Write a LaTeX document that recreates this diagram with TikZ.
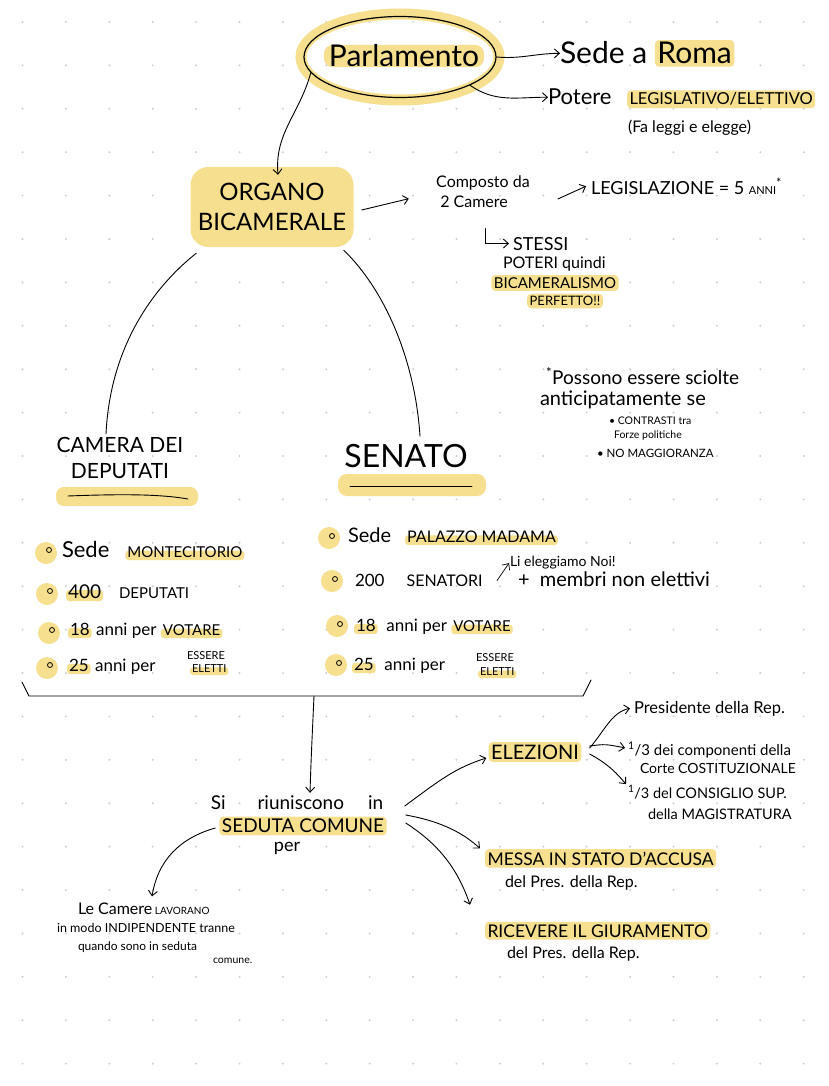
\documentclass[tikz,border=0pt]{standalone}
\usepackage{fontspec}
\setmainfont{Lato}
\usetikzlibrary{arrows.meta,shapes.geometric,calc}
\definecolor{hl}{RGB}{246,223,142}
\definecolor{dotc}{RGB}{205,205,205}
\newcommand\fz[1]{\fontsize{#1}{\fpeval{1.25*#1}}\selectfont}
\newcommand\hlt[1]{\tikz[baseline=(hh.base)]\node[anchor=center,fill=hl,rounded corners=4pt,inner xsep=2.5pt,inner ysep=2.5pt,outer sep=0pt](hh){#1};}
\newcommand\hlu[1]{\tikz[baseline=(hu.base)]{\node[anchor=center,inner sep=0pt,outer sep=0pt](hu) at (0,0) {\phantom{#1}};\fill[hl,rounded corners=3pt]($(hu.base west)+(-2pt,-3pt)$) rectangle ($(hu.base east)+(2pt,0.42em)$);\node[anchor=center,inner sep=0pt,outer sep=0pt](hv) at (hu.center) {#1};}}
\tikzset{
  txt/.style={anchor=base west, inner sep=0pt, outer sep=0pt},
  arr/.style={-{Straight Barb[length=5pt,width=9pt]}, line width=0.9pt, line cap=round},
  ln/.style={line width=0.9pt, line cap=round, line join=round},
  bdot/.style={fill=hl},
  bring/.style={draw, line width=0.8pt},
}
\begin{document}
\begin{tikzpicture}[x=1pt,y=-1pt]
\useasboundingbox (0,0) rectangle (828,1086);
\fill[white] (0,0) rectangle (828,1086);
\foreach \i in {0,...,18} \foreach \j in {0,...,24} \fill[dotc] (22.5+43.4*\i, 22+43.4*\j) circle (1.1);

% Parlamento
\node[ellipse, draw=hl, line width=11pt, minimum width=198, minimum height=86] (ring) at (400,57) {};
\node[ellipse, draw, line width=1.2pt, minimum width=192, minimum height=81] (parlE) at (400,57) {};
\node[fill=hl, rounded corners=9pt, inner xsep=5pt, inner ysep=0pt, font=\fz{30}] (parl) at (404,56) {Parlamento};

\node[txt, font=\fz{30}] (sede) at (560,64) {Sede a \hlt{Roma}};
\node[txt, font=\fz{22}] (potere) at (548,105) {Potere};
\node[txt, font=\fz{16.5}] (legis) at (627,105) {\hlt{LEGISLATIVO/ELETTIVO}};
\node[txt, font=\fz{16}] (fa) at (628,133) {(Fa leggi e elegge)};
\draw[arr] (parlE.east) to[out=-5,in=180] (sede.west);
\draw[arr] (parlE.-22) to[out=-35,in=180] (potere.west);

% Organo
\node[fill=hl, rounded corners=18pt, minimum width=163, minimum height=80, align=center, font=\fz{24}, inner sep=2pt] (organo) at (272,207) {ORGANO\\BICAMERALE};
\draw[arr] (parlE.190) to[out=-105,in=95] ($(organo.north)+(6,8)$);

\node[anchor=north west, align=left, font=\fz{16}, inner sep=0pt] (comp) at (436,176) {Composto da\\\ 2 Camere};
\draw[arr, shorten >=28pt] ($(organo.east)+(8,3)$) -- (comp.west);
\node[txt, font=\fz{18}] (legisl) at (591,194) {LEGISLAZIONE = 5 {\fz{11}ANNI}\textsuperscript{*}};
\draw[arr] ($(comp.north east)+(28,23)$) -- ($(legisl.west)+(-5,0)$);
\node[txt, font=\fz{18}] (stessi) at (513,250) {STESSI};
\draw[arr] ($(stessi.west)+(-28,-15)$) |- ($(stessi.west)+(-4,0)$);
\node[txt, font=\fz{16}] (poteri) at (503,268) {POTERI quindi};
\node[font=\fz{15}, inner sep=0pt] (bicam) at (555,283) {\hlt{BICAMERALISMO}};
\node[font=\fz{13}, inner sep=0pt] (perf) at (565,301) {\hlt{PERFETTO!!}};

% Camera / Senato
\node[align=center, font=\fz{21}, inner sep=0pt] (camera) at (120,458) {CAMERA DEI\\DEPUTATI};
\fill[hl, rounded corners=8pt] (56,487) rectangle (198,506);
\draw[ln] (68,496) .. controls (120,494) and (160,494) .. (188,499);
\node[font=\fz{32}, inner sep=0pt] (senato) at (406,456) {SENATO};
\fill[hl, rounded corners=9pt] (338,474) rectangle (486,496);
\draw[ln] (350,486) -- (472,486);
\draw[ln] ($(organo.south west)+(6,6)$) .. controls (150,290) and (110,350) .. ($(camera.north)+(-14,-3)$);
\draw[ln] ($(organo.south east)+(-10,3)$) .. controls (385,290) and (415,360) .. ($(senato.north)+(14,-8)$);

% Sciolte
\node[txt, font=\fz{19}] (sc1) at (546,384) {\textsuperscript{*}Possono essere sciolte};
\node[txt, font=\fz{20}] (sc2) at (540,405) {anticipatamente se};
\node[txt, font=\fz{10.5}] (sc3) at (609,424) {\textbullet\ CONTRASTI tra};
\node[txt, font=\fz{10.5}] (sc4) at (614,438) {Forze politiche};
\node[txt, font=\fz{11.5}] (sc5) at (597,457) {\textbullet\ NO MAGGIORANZA};

% left list
\foreach \x/\y in {46/553,47/594,49/633,47/668} {\fill[bdot] (\x,\y) circle (11); \draw[bring] (\x+3,\y-3) circle (2.5);}
\node[txt, font=\fz{22}] (l1) at (62,557) {Sede\hspace{16pt}{\fz{15}\hlu{MONTECITORIO}}};
\node[txt, font=\fz{19}] (l2) at (66,598) {\hlu{400}\hspace{16pt}{\fz{15}DEPUTATI}};
\node[txt, font=\fz{17}] (l3) at (68,635) {\hlu{18} anni per {\fz{15}\hlu{VOTARE}}};
\node[txt, font=\fz{17}] (l4) at (67,671) {\hlu{25} anni per};
\node[txt, font=\fz{11}] (l4a) at (187,659) {ESSERE};
\node[txt, font=\fz{11}] (l4b) at (190,672) {\hlu{ELETTI}};

% right list
\foreach \x/\y in {329/538,332/581,337/626,336/665} {\fill[bdot] (\x,\y) circle (11); \draw[bring] (\x+3,\y-2) circle (2.5);}
\node[txt, font=\fz{20}] (r1) at (348,542) {Sede\hspace{14pt}{\fz{16}\hlu{PALAZZO MADAMA}}};
\node[txt, font=\fz{17}] (r2) at (355,586) {200\hspace{22pt}{\fz{16}SENATORI}};
\node[txt, font=\fz{20}] (r2b) at (518,586) {+\ \ membri non elettivi};
\node[txt, font=\fz{14}] (noi) at (510,566) {Li eleggiamo Noi!};
\draw[arr, line width=0.7pt] ($(noi.south west)+(-13,12)$) -- ($(noi.west)+(-1,1)$);
\node[txt, font=\fz{17}] (r3) at (354,631) {\hlu{18}\ \ anni per {\fz{15}\hlu{VOTARE}}};
\node[txt, font=\fz{17}] (r4) at (352,670) {\hlu{25}\ \ anni per};
\node[txt, font=\fz{11}] (r4a) at (476,661) {ESSERE};
\node[txt, font=\fz{11}] (r4b) at (478,675) {\hlu{ELETTI}};

% brace
\draw[ln] (22,682) -- (29,696) -- (583,696) -- (591,680);
\coordinate (bm) at (314,696);

% seduta comune
\node[font=\fz{19}, inner sep=0pt] (riun) at (297,803) {Si\hspace{32pt}riuniscono\hspace{24pt}in};
\node[font=\fz{19}, inner sep=0pt] (sedc) at (303,826) {\hlt{SEDUTA COMUNE}};
\node[font=\fz{18}, inner sep=0pt] (per) at (287,848) {per};
\draw[arr] (bm) .. controls (312,740) and (311,760) .. ($(riun.north)+(13,-3)$);

\node[txt] (lc1) at (78,914) {{\fz{16}Le Camere} {\fz{10}LAVORANO}};
\node[txt, font=\fz{12.5}] (lc2) at (57,932) {in modo INDIPENDENTE tranne};
\node[txt, font=\fz{12}] (lc3) at (78,950) {quando sono in seduta};
\node[txt, font=\fz{10.5}] (lc4) at (213,963) {comune.};
\draw[arr] ($(sedc.west)+(-4,2)$) .. controls (180,838) and (158,860) .. ($(lc1.north west)+(74,-6)$);

% elezioni and others
\node[font=\fz{20}, inner sep=0pt] (elez) at (535,752) {\hlt{ELEZIONI}};
\node[txt, font=\fz{17.5}] (messa) at (485,865) {\hlt{MESSA IN STATO D'ACCUSA}};
\node[txt, font=\fz{16}] (messa2) at (505,887) {del Pres. della Rep.};
\node[txt, font=\fz{17.5}] (ric) at (485,937) {\hlt{RICEVERE IL GIURAMENTO}};
\node[txt, font=\fz{16}] (ric2) at (507,958) {del Pres. della Rep.};
\draw[arr] ($(sedc.east)+(18,-20)$) .. controls (440,780) and (455,768) .. ($(elez.west)+(-2,6)$);
\draw[arr] ($(sedc.east)+(19,-11)$) .. controls (445,822) and (465,835) .. ($(messa.west)+(-5,-10)$);
\draw[arr] ($(sedc.east)+(19,-3)$) .. controls (440,845) and (458,870) .. ($(ric.west)+(-15,-26)$);

\node[txt, font=\fz{16.5}] (pres) at (634,713) {Presidente della Rep.};
\node[txt, font=\fz{15}] (t1) at (628,755) {\textsuperscript{1}/3 dei componenti della};
\node[txt, font=\fz{14}] (t1b) at (640,773) {Corte COSTITUZIONALE};
\node[txt, font=\fz{14.5}] (t2) at (628,798) {\textsuperscript{1}/3 del CONSIGLIO SUP.};
\node[txt, font=\fz{14.5}] (t2b) at (648,819) {della MAGISTRATURA};
\draw[arr] ($(elez.east)+(8,-4)$) .. controls (605,730) and (612,712) .. ($(pres.west)+(-4,0)$);
\draw[arr] ($(elez.east)+(8,-6)$) .. controls (605,744) .. ($(t1.west)+(-3,-2)$);
\draw[arr] ($(elez.east)+(8,2)$) .. controls (610,765) and (618,775) .. ($(t2.west)+(-2,-8)$);
\end{tikzpicture}
\end{document}
